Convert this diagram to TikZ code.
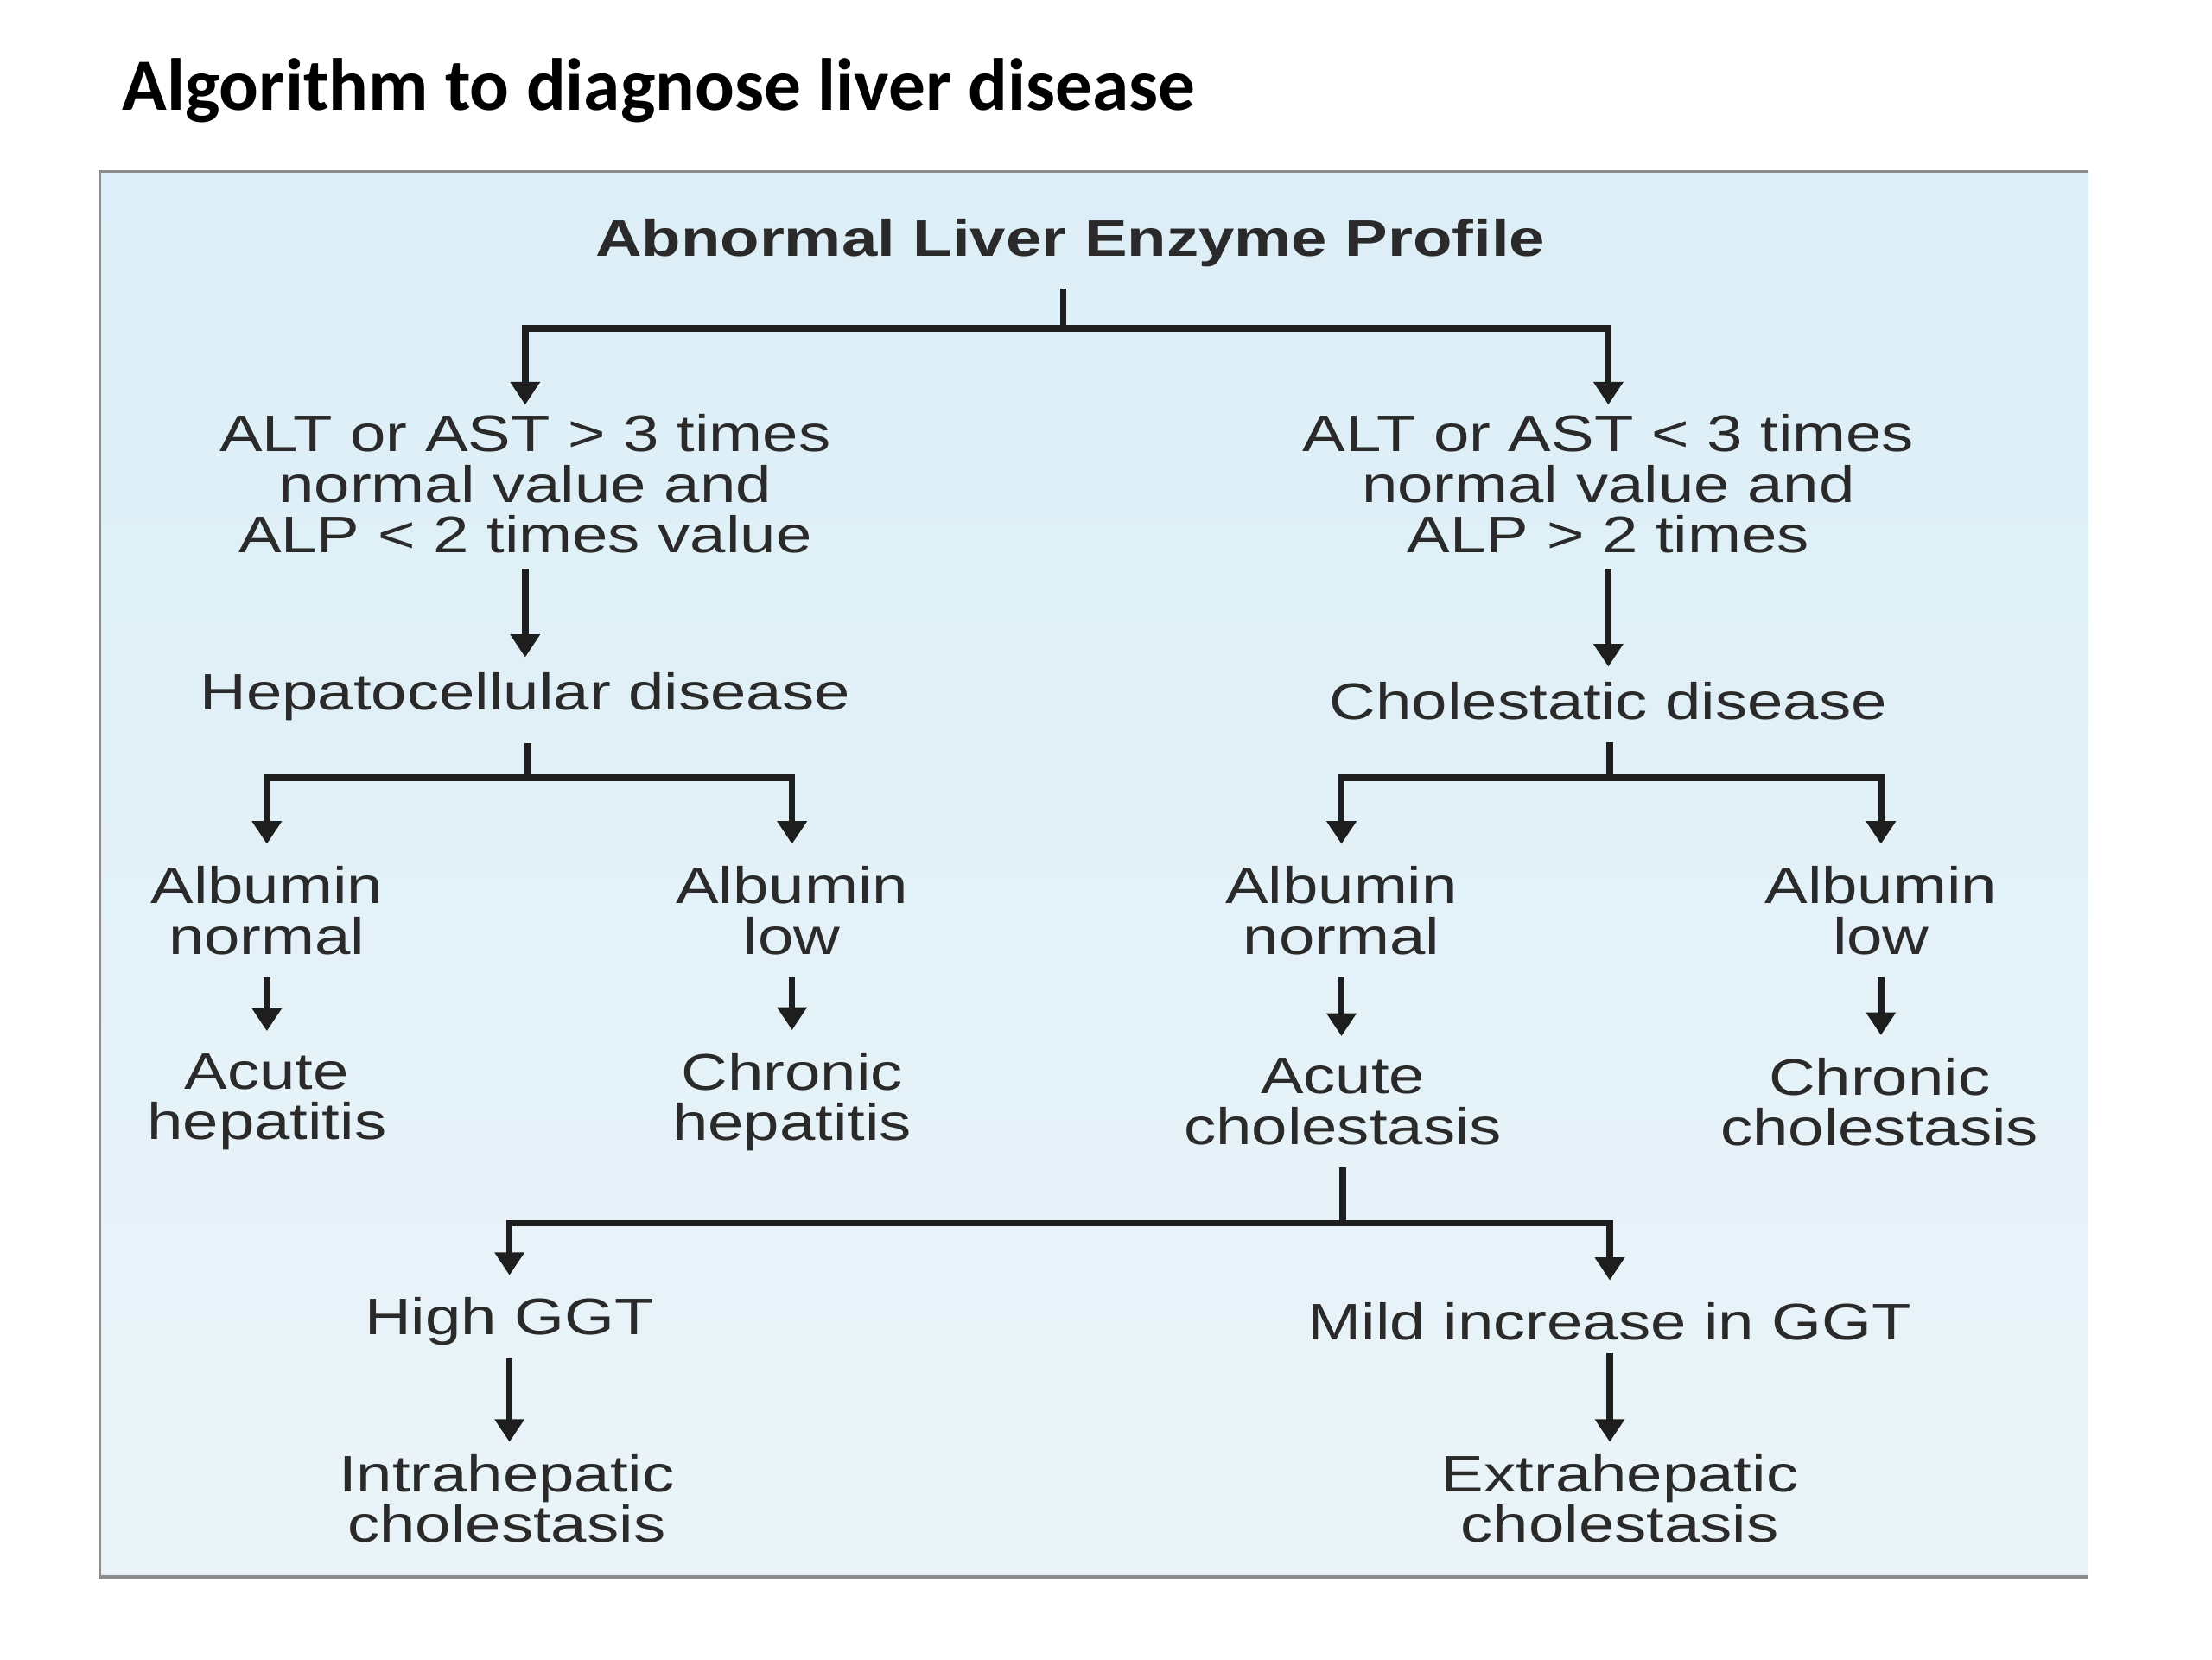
\documentclass[tikz,border=0pt]{standalone}
\usepackage{fontspec}
\setmainfont{Liberation Sans}
\newfontfamily\chartfont[FakeStretch=1.25]{Liberation Sans}
\newfontfamily\titlefont{Carlito}
\usetikzlibrary{arrows.meta}
\definecolor{boxtop}{HTML}{DCEEF7}
\definecolor{boxbot}{HTML}{EAF4F8}
\definecolor{boxline}{HTML}{8C8C8C}
\definecolor{inkgray}{HTML}{2A2A2A}
\definecolor{linegray}{HTML}{1E1E1E}
\begin{document}
\begin{tikzpicture}[
  txt/.style={font=\chartfont\fontsize{10.25pt}{10.1pt}\selectfont,text=inkgray,align=center,inner sep=0.15cm},
  con/.style={line width=0.045cm,draw=linegray},
  arr/.style={con,-{Triangle[length=0.16cm,width=0.2cm]}},
  longer/.style={shorten <=-#1,shorten >=-#1}]
\useasboundingbox[fill=white](0,0)rectangle(15.5,-11.625);
% panel
\shade[top color=boxtop,bottom color=boxbot](0.70,-1.20)rectangle(14.63,-11.05);
\draw[boxline,line width=0.02cm](14.63,-1.20)--(0.70,-1.20)--(0.70,-11.05)--(14.63,-11.05);
\node[anchor=base west,inner sep=0,font=\titlefont\bfseries\fontsize{14.7pt}{16pt}\selectfont](title)at(0.85,-0.77){Algorithm to diagnose liver disease};
% nodes
\node[txt,font=\chartfont\bfseries\fontsize{10.25pt}{10.1pt}\selectfont](abn)at(7.50,-1.70){Abnormal Liver Enzyme Profile};
\node[txt](alt1)at(3.68,-3.39){ALT or AST > 3 times\\normal value and\\ALP < 2 times value};
\node[txt](alt2)at(11.27,-3.39){ALT or AST < 3 times\\normal value and\\ALP > 2 times};
\node[txt](hep)at(3.68,-4.88){Hepatocellular disease};
\node[txt](chol)at(11.27,-4.91){Cholestatic disease};
\node[txt](alb1)at(1.87,-6.38){Albumin\\normal};
\node[txt](alb2)at(5.55,-6.38){Albumin\\low};
\node[txt](alb3)at(9.40,-6.38){Albumin\\normal};
\node[txt](alb4)at(13.18,-6.38){Albumin\\low};
\node[txt](res1)at(1.87,-7.72){Acute\\hepatitis};
\node[txt](res2)at(5.55,-7.72){Chronic\\hepatitis};
\node[txt](res3)at(9.41,-7.72){Acute\\cholestasis};
\node[txt](res4)at(13.17,-7.72){Chronic\\cholestasis};
\node[txt](ggt1)at(3.57,-9.26){High GGT};
\node[txt](ggt2)at(11.28,-9.26){Mild increase in GGT};
\node[txt](fin1)at(3.55,-10.50){Intrahepatic\\cholestasis};
\node[txt](fin2)at(11.35,-10.50){Extrahepatic\\cholestasis};
% forks
\coordinate(j1)at(7.45,-2.30);
\coordinate(j2)at(3.70,-5.45);
\coordinate(j3)at(11.28,-5.45);
\coordinate(j4)at(9.41,-8.57);
\draw[con](abn.south-|j1)--(j1);
\draw[arr,shorten >=-0.09cm](j1)-|(alt1);
\draw[arr,shorten >=-0.09cm](j1)-|(alt2);
\draw[con](hep.south-|j2)--(j2);
\draw[arr](j2)-|(alb1);
\draw[arr](j2)-|(alb2);
\draw[con](chol.south-|j3)--(j3);
\draw[arr](j3)-|(alb3);
\draw[arr](j3)-|(alb4);
\draw[con](res3.south-|j4)--(j4);
\draw[arr](j4)-|(ggt1);
\draw[arr](j4)-|(ggt2);
% straight arrows
\draw[arr,longer=0.05cm](alt1.south)--(alt1.south|-hep.north);
\draw[arr,longer=0.05cm](alt2.south)--(alt2.south|-chol.north);
\draw[arr](alb1.south)--(alb1.south|-res1.north);
\draw[arr](alb2.south)--(alb2.south|-res2.north);
\draw[arr](alb3.south)--(alb3.south|-res3.north);
\draw[arr](alb4.south)--(alb4.south|-res4.north);
\draw[arr,longer=0.07cm](ggt1.south)--(ggt1.south|-fin1.north);
\draw[arr,longer=0.07cm](ggt2.south)--(ggt2.south|-fin2.north);
\end{tikzpicture}
\end{document}
